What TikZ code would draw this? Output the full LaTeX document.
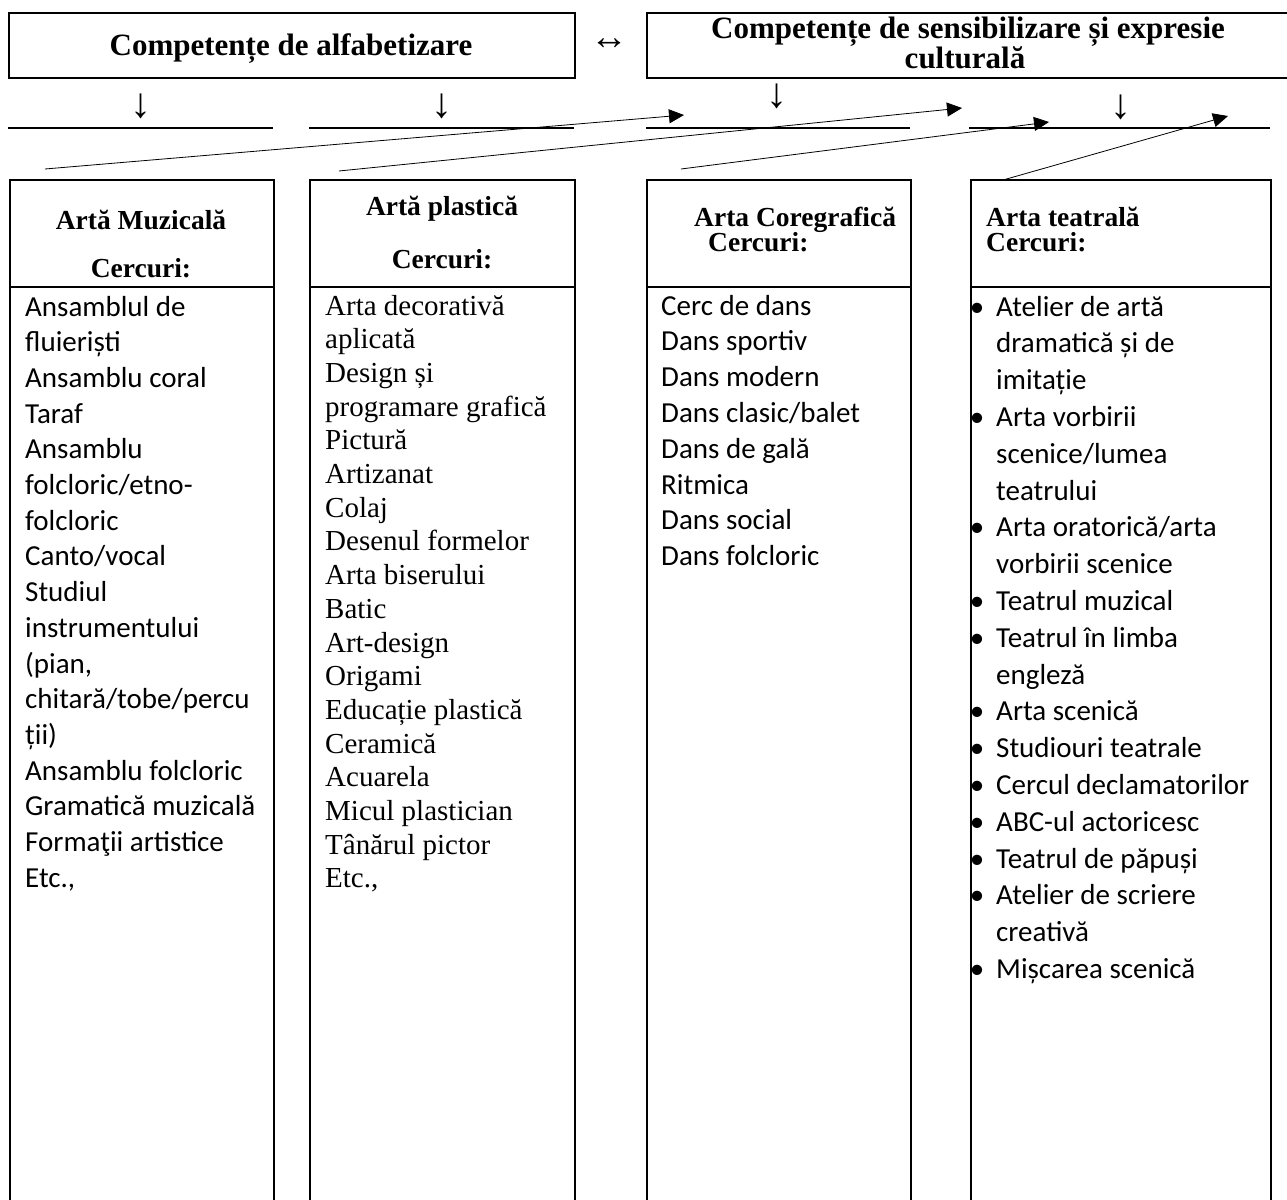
\documentclass[tikz,border=0pt]{standalone}
\usepackage{fontspec}
\setmainfont{Liberation Serif}
\newfontfamily\sansb{Carlito}
\usetikzlibrary{arrows.meta}
\tikzset{
  box/.style={draw, line width=2pt, inner sep=0pt, anchor=north west},
  ttl/.style={font=\bfseries\fontsize{31}{33}\selectfont, anchor=base, inner sep=0pt},
  hdr/.style={font=\bfseries\fontsize{27.5}{30}\selectfont, inner sep=0pt},
  sitem/.style={font=\sansb\fontsize{29}{35}\selectfont, anchor=base west, inner sep=0pt},
  ritem/.style={font=\fontsize{29}{34}\selectfont, anchor=base west, inner sep=0pt},
  darr/.style={font=\fontsize{42}{44}\selectfont, inner sep=0pt},
  harr/.style={font=\fontsize{38}{40}\selectfont, inner sep=0pt},
  hline/.style={line width=2pt},
  sepline/.style={line width=1.6pt},
  link/.style={line width=0.8pt, -{Triangle[length=15pt,width=14pt]}},
}
\begin{document}
\begin{tikzpicture}[x=1pt,y=-1pt]
\useasboundingbox (0,0) rectangle (1287,1199);

% top boxes
\node[box, minimum width=566pt, minimum height=65pt] (top1) at (8,12) {};
\node[box, minimum width=645pt, minimum height=65pt] (top2) at (646,12) {};
\node[ttl] (top1t) at (291,56) {Competențe de alfabetizare};
\node[ttl] (top2t1) at (968,38) {Competențe de sensibilizare și expresie};
\node[ttl] (top2t2) at (965,69) {culturală};
\node[harr, anchor=center] (lr) at (609,44) {↔};

% down arrows (glyphs)
\node[darr] (d1) at (141,106) {↓};
\node[darr] (d2) at (442,106) {↓};
\node[darr] (d3) at (777,96) {↓};
\node[darr] (d4) at (1121,107) {↓};

% horizontal lines
\draw[hline] (8,128) -- (273,128);
\draw[hline] (309,128) -- (574,128);
\draw[hline] (646,128) -- (910,128);
\draw[hline] (969,128) -- (1270,128);

% column boxes
\node[box, minimum width=264pt, minimum height=1040pt] (cA) at (9,179) {};
\node[box, minimum width=265pt, minimum height=1040pt] (cB) at (309,179) {};
\node[box, minimum width=264pt, minimum height=1040pt] (cC) at (646,179) {};
\node[box, minimum width=300pt, minimum height=1040pt] (cD) at (970,179) {};
\draw[sepline] (9,287) -- (273,287);
\draw[sepline] (309,287) -- (574,287);
\draw[sepline] (646,287) -- (910,287);
\draw[sepline] (970,287) -- (1270,287);

% diagonal connectors
\coordinate (s1) at (45,169);   \coordinate (e1) at (684,115);
\coordinate (s2) at (339,171);  \coordinate (e2) at (962,108);
\coordinate (s3) at (681,169);  \coordinate (e3) at (1049,122);
\coordinate (s4) at (1003,180); \coordinate (e4) at (1228,116);
\draw[link] (s1) -- (e1);
\draw[link] (s2) -- (e2);
\draw[link] (s3) -- (e3);
\draw[link] (s4) -- (e4);

% headers
\node[hdr, anchor=base] (hA1) at (141,229) {Artă Muzicală};
\node[hdr, anchor=base] (hA2) at (141,277) {Cercuri:};
\node[hdr, anchor=base] (hB1) at (442,215) {Artă plastică};
\node[hdr, anchor=base] (hB2) at (442,268) {Cercuri:};
\node[hdr, anchor=base west] (hC1) at (694,226) {Arta Coregrafică};
\node[hdr, anchor=base west] (hC2) at (708,251) {Cercuri:};
\node[hdr, anchor=base west] (hD1) at (986,226) {Arta teatrală};
\node[hdr, anchor=base west] (hD2) at (986,251) {Cercuri:};

% column A
\foreach \t [count=\i from 0] in {Ansamblul de, fluieriști, Ansamblu coral, Taraf, Ansamblu, folcloric/etno-, folcloric, Canto/vocal, Studiul, instrumentului, {(pian,}, chitară/tobe/percu, ții), Ansamblu folcloric, Gramatică muzicală, Formaţii artistice, {Etc.,}}
  \node[sitem] (a\i) at (25,{316+35.7*\i}) {\t};

% column B
\foreach \t [count=\i from 0] in {Arta decorativă, aplicată, Design și, programare grafică, Pictură, Artizanat, Colaj, Desenul formelor, Arta biserului, Batic, Art-design, Origami, Educație plastică, Ceramică, Acuarela, Micul plastician, Tânărul pictor, {Etc.,}}
  \node[ritem] (b\i) at (325,{315+33.7*\i}) {\t};

% column C
\foreach \t [count=\i from 0] in {Cerc de dans, Dans sportiv, Dans modern, Dans clasic/balet, Dans de gală, Ritmica, Dans social, Dans folcloric}
  \node[sitem] (c\i) at (661,{315+35.8*\i}) {\t};

% column D
\foreach \t [count=\i from 0] in {Atelier de artă, dramatică și de, imitație, Arta vorbirii, scenice/lumea, teatrului, Arta oratorică/arta, vorbirii scenice, Teatrul muzical, Teatrul în limba, engleză, Arta scenică, Studiouri teatrale, Cercul declamatorilor, ABC-ul actoricesc, Teatrul de păpuși, Atelier de scriere, creativă, Mișcarea scenică}
  \node[sitem] (d\i) at (996,{316+36.8*\i}) {\t};
\foreach \i in {0,3,6,8,9,11,12,13,14,15,16,18}
  \node[sitem, anchor=base] (bul\i) at (977,{316+36.8*\i}) {•};
\end{tikzpicture}
\end{document}
